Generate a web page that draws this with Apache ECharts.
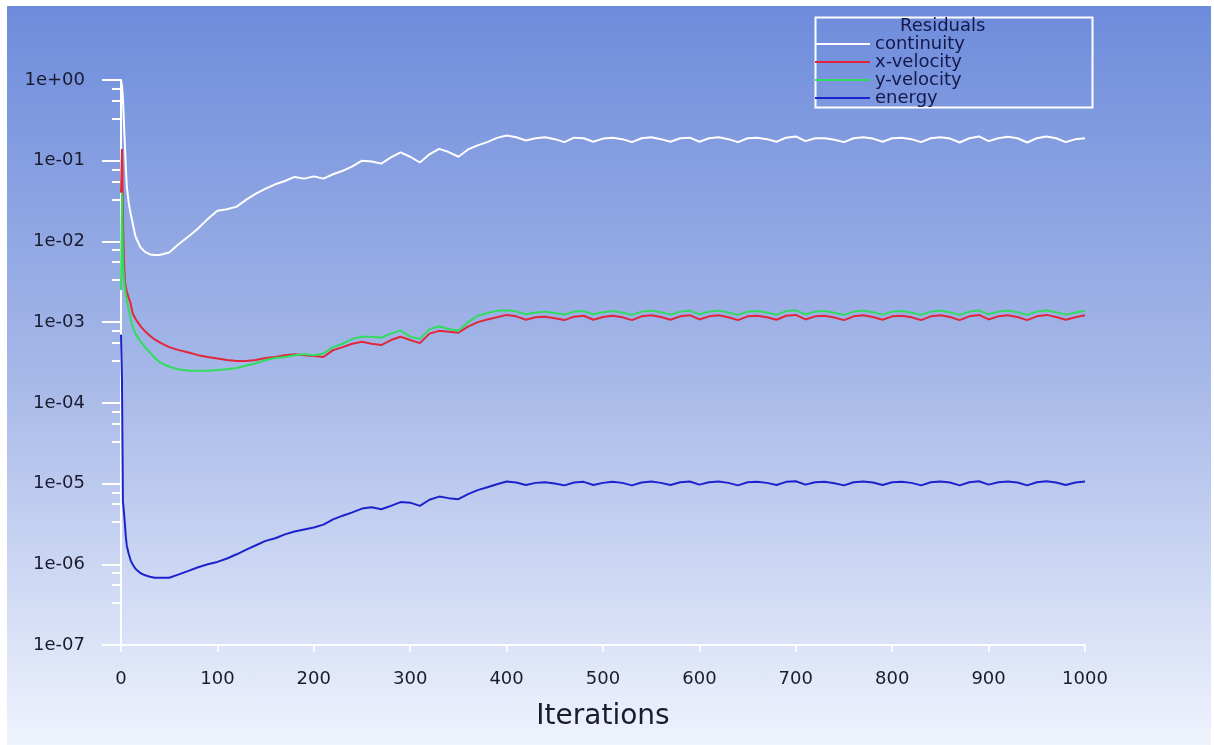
<!DOCTYPE html>
<html>
<head>
<meta charset="utf-8">
<script src="https://cdn.jsdelivr.net/npm/echarts@6/dist/echarts.min.js"></script>
<style>
  html, body { margin: 0; padding: 0; background: #ffffff; }
  #bg {
    position: absolute; left: 7px; top: 6px; width: 1204px; height: 739px;
    background: linear-gradient(to bottom, #6e8cdc 0%, #a6b8e8 50%, #eff3fd 100%);
  }
  #main { position: absolute; left: 0; top: 0; width: 1214px; height: 745px; }
</style>
</head>
<body>
<div id="bg"></div>
<div id="main"></div>
<script>
let chartDom = document.getElementById('main');
let myChart = echarts.init(chartDom);

// iteration numbers (x)
const iterations = [0, 1, 2, 3, 4, 5, 6, 8, 10, 12, 15, 20, 25, 30, 35, 40,
  50, 60, 70, 80, 90, 100, 110, 120, 130, 140, 150, 160, 170, 180, 190,
  200, 210, 220, 230, 240, 250, 260, 270, 280, 290, 300, 310, 320, 330, 340,
  350, 360, 370, 380, 390, 400, 410, 420, 430, 440, 450, 460, 470, 480, 490,
  500, 510, 520, 530, 540, 550, 560, 570, 580, 590, 600, 610, 620, 630, 640,
  650, 660, 670, 680, 690, 700, 710, 720, 730, 740, 750, 760, 770, 780, 790,
  800, 810, 820, 830, 840, 850, 860, 870, 880, 890, 900, 910, 920, 930, 940,
  950, 960, 970, 980, 990, 1000];

const continuity = [1.0, 0.85, 0.6, 0.3, 0.16, 0.085, 0.048, 0.03, 0.022, 0.017, 0.0115, 0.0085, 0.0074, 0.0069, 0.0068, 0.0068,
  0.0073, 0.0093, 0.0115, 0.0145, 0.019,
  0.024, 0.025, 0.027, 0.033, 0.039, 0.045, 0.051, 0.056, 0.063, 0.06,
  0.064, 0.06, 0.068, 0.075, 0.085, 0.1, 0.098, 0.092, 0.11, 0.127,
  0.112, 0.095, 0.12, 0.14, 0.128, 0.112, 0.138, 0.155, 0.17, 0.192,
  0.205,
  0.195, 0.178, 0.19, 0.195, 0.185, 0.17, 0.193, 0.19, 0.172,
  0.188, 0.192, 0.185, 0.17, 0.19, 0.195, 0.185, 0.172, 0.19, 0.193,
  0.172, 0.19, 0.195, 0.185, 0.17, 0.19, 0.193, 0.185, 0.172, 0.193,
  0.2, 0.175, 0.19, 0.19, 0.182, 0.17, 0.19, 0.195, 0.188, 0.172,
  0.19, 0.192, 0.185, 0.17, 0.19, 0.195, 0.188, 0.168, 0.19, 0.2,
  0.175, 0.19, 0.198, 0.19, 0.168, 0.19, 0.2, 0.19, 0.17, 0.185,
  0.19];

const xVelocity = [0.04, 0.14, 0.02, 0.006, 0.0032, 0.0027, 0.0024, 0.002, 0.0017, 0.0013, 0.0011, 0.0009, 0.00077, 0.00068, 0.00061, 0.00056,
  0.00049, 0.00045, 0.00042, 0.00039, 0.00037,
  0.000355, 0.00034, 0.00033, 0.00033, 0.00034, 0.00036, 0.00037, 0.00039, 0.0004, 0.00039,
  0.00038, 0.00037, 0.00045, 0.00049, 0.00054, 0.00057, 0.00054, 0.00052, 0.0006, 0.00066,
  0.0006, 0.00055, 0.00072, 0.00078, 0.00076, 0.00074, 0.00088, 0.001, 0.00108, 0.00115,
  0.00123,
  0.00118, 0.00107, 0.00115, 0.00117, 0.00112, 0.00106, 0.00117, 0.0012, 0.00107,
  0.00116, 0.0012, 0.00115, 0.00106, 0.00118, 0.00122, 0.00116, 0.00107, 0.00118, 0.00122,
  0.00108, 0.00118, 0.00122, 0.00115, 0.00106, 0.00118, 0.0012, 0.00115, 0.00107, 0.0012,
  0.00123, 0.00108, 0.00118, 0.0012, 0.00114, 0.00106, 0.00118, 0.00122, 0.00116, 0.00107,
  0.00118, 0.0012, 0.00115, 0.00106, 0.00118, 0.00122, 0.00116, 0.00106, 0.00118, 0.00123,
  0.00108, 0.00118, 0.00122, 0.00116, 0.00106, 0.00118, 0.00123, 0.00116, 0.00107, 0.00115,
  0.00122];

const yVelocity = [0.0025, 0.04, 0.006, 0.0035, 0.0027, 0.0022, 0.0019, 0.0014, 0.0011, 0.00088, 0.00072, 0.00058, 0.00049, 0.00042, 0.00036, 0.00032,
  0.00028, 0.00026, 0.00025, 0.00025, 0.00025,
  0.000255, 0.00026, 0.00027, 0.00029, 0.00031, 0.00034, 0.00036, 0.00037, 0.00039, 0.0004,
  0.00039, 0.00041, 0.00049, 0.00054, 0.00062, 0.00066, 0.00066, 0.00064, 0.00072, 0.00079,
  0.00066, 0.00062, 0.00082, 0.00089, 0.00082, 0.00078, 0.001, 0.0012, 0.0013, 0.00138,
  0.0014,
  0.00136, 0.00125, 0.00132, 0.00135, 0.0013, 0.00124, 0.00135, 0.00137, 0.00125,
  0.00133, 0.00137, 0.00132, 0.00123, 0.00135, 0.00139, 0.00133, 0.00124, 0.00135, 0.00139,
  0.00125, 0.00135, 0.00139, 0.00132, 0.00123, 0.00135, 0.00137, 0.00132, 0.00124, 0.00137,
  0.0014, 0.00125, 0.00135, 0.00137, 0.00131, 0.00123, 0.00135, 0.00139, 0.00133, 0.00124,
  0.00135, 0.00137, 0.00132, 0.00123, 0.00135, 0.00139, 0.00133, 0.00123, 0.00135, 0.0014,
  0.00125, 0.00135, 0.00139, 0.00133, 0.00123, 0.00135, 0.0014, 0.00133, 0.00124, 0.00132,
  0.00138];

const energy = [0.0007, 0.0002, 6e-6, 4.5e-6, 3.2e-6, 2.2e-6, 1.7e-6, 1.35e-6, 1.12e-6, 1.0e-6, 8.8e-7, 7.8e-7, 7.3e-7, 7.0e-7, 6.8e-7, 6.8e-7,
  6.8e-7, 7.5e-7, 8.3e-7, 9.2e-7, 1.0e-6,
  1.07e-6, 1.18e-6, 1.33e-6, 1.52e-6, 1.72e-6, 1.95e-6, 2.1e-6, 2.35e-6, 2.55e-6, 2.7e-6,
  2.85e-6, 3.1e-6, 3.6e-6, 4.0e-6, 4.4e-6, 4.9e-6, 5.1e-6, 4.8e-6, 5.3e-6, 5.9e-6,
  5.8e-6, 5.3e-6, 6.3e-6, 6.9e-6, 6.6e-6, 6.4e-6, 7.4e-6, 8.3e-6, 9.0e-6, 9.8e-6,
  1.06e-5,
  1.03e-5, 0.96e-5, 1.02e-5, 1.04e-5, 1.0e-5, 0.95e-5, 1.03e-5, 1.05e-5, 0.96e-5,
  1.02e-5, 1.05e-5, 1.02e-5, 0.95e-5, 1.03e-5, 1.06e-5, 1.02e-5, 0.96e-5, 1.04e-5, 1.06e-5,
  0.97e-5, 1.04e-5, 1.06e-5, 1.02e-5, 0.95e-5, 1.04e-5, 1.05e-5, 1.02e-5, 0.96e-5, 1.05e-5,
  1.07e-5, 0.97e-5, 1.04e-5, 1.05e-5, 1.01e-5, 0.95e-5, 1.04e-5, 1.06e-5, 1.03e-5, 0.96e-5,
  1.04e-5, 1.05e-5, 1.02e-5, 0.95e-5, 1.04e-5, 1.06e-5, 1.03e-5, 0.95e-5, 1.04e-5, 1.07e-5,
  0.97e-5, 1.04e-5, 1.06e-5, 1.03e-5, 0.95e-5, 1.04e-5, 1.07e-5, 1.03e-5, 0.96e-5, 1.03e-5,
  1.06e-5];

// minor tick marks inside each decade (as fractions of the decade top)
const minorSteps = [3.33, 5.56, 7.78];
const decades = [-7, -6, -5, -4, -3, -2, -1];

let minorTicks = [];
decades.forEach(d => {
  minorSteps.forEach(s => minorTicks.push(s * Math.pow(10, d)));
});

const font = 'DejaVu Sans';
const textColor = '#1b1b30';

function expLabel(v) {
  let e = Math.round(Math.log10(v));
  return '1e' + (e >= 0 ? '+' : '-') + String(Math.abs(e)).padStart(2, '0');
}

function pairs(vals) {
  return vals.map((v, i) => [iterations[i], v]);
}

const names = ['continuity', 'x-velocity', 'y-velocity', 'energy'];
const colors = ['#ffffff', '#e2263c', '#30dc5c', '#1c22cc'];
const values = [continuity, xVelocity, yVelocity, energy];

let option = {
  animation: false,
  textStyle: { fontFamily: font },
  grid: { left: 121, right: 129, top: 80, bottom: 100 },
  graphic: [
    {
      type: 'rect',
      left: 813, top: 15,
      shape: { width: 277, height: 90 },
      style: { fill: 'none', stroke: '#ffffff', lineWidth: 2 }
    },
    {
      type: 'text',
      left: 900, top: 17,
      style: { text: 'Residuals', font: '18px "DejaVu Sans"', fill: '#14184a' }
    }
  ],
  legend: {
    orient: 'vertical',
    left: 815,
    top: 35,
    itemWidth: 55,
    itemHeight: 2,
    itemGap: 0,
    icon: 'rect',
    padding: 0,
    data: names,
    textStyle: { fontFamily: font, fontSize: 18, lineHeight: 17, color: '#14184a' }
  },
  xAxis: {
    type: 'value',
    min: 0,
    max: 1000,
    interval: 100,
    name: 'Iterations',
    nameLocation: 'middle',
    nameGap: 58,
    nameTextStyle: { fontFamily: font, fontSize: 28, color: textColor },
    axisLine: { lineStyle: { color: '#ffffff', width: 2 } },
    axisTick: { length: 7, lineStyle: { color: 'rgba(255,255,255,0.85)', width: 2 } },
    axisLabel: { margin: 25, fontFamily: font, fontSize: 18, color: textColor, formatter: v => String(v) },
    splitLine: { show: false }
  },
  yAxis: [
    {
      type: 'log',
      logBase: 10,
      min: 1e-7,
      max: 1,
      splitNumber: 7,
      axisLine: { show: true, lineStyle: { color: '#ffffff', width: 2 } },
      axisTick: { show: true, length: 19, lineStyle: { color: '#ffffff', width: 2 } },
      axisLabel: { margin: 36, fontFamily: font, fontSize: 18, color: textColor, formatter: expLabel },
      splitLine: { show: false }
    },
    {
      type: 'log',
      logBase: 10,
      min: 1e-7,
      max: 1,
      position: 'left',
      axisLine: { show: false },
      axisTick: { show: true, length: 9, customValues: minorTicks, lineStyle: { color: '#ffffff', width: 2 } },
      axisLabel: { show: false },
      splitLine: { show: false }
    }
  ],
  series: names.map((n, k) => ({
    name: n,
    type: 'line',
    data: pairs(values[k]),
    showSymbol: false,
    symbol: 'none',
    color: colors[k],
    lineStyle: { width: 2, color: colors[k] }
  }))
};

option && myChart.setOption(option);
</script>
</body>
</html>
